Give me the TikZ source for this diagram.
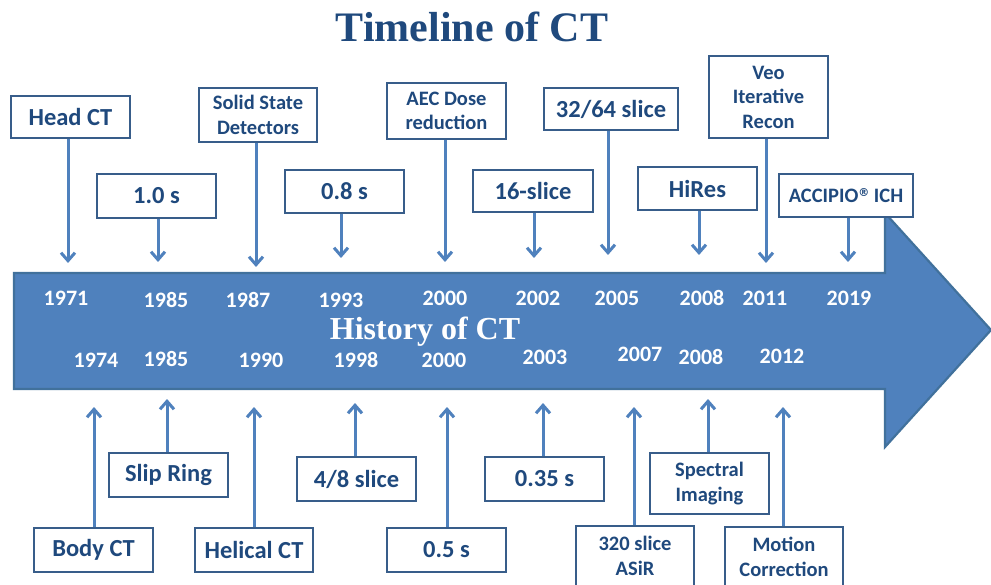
\documentclass[tikz,border=0pt]{standalone}
\usepackage{fontspec}
\setmainfont{Carlito}
\newfontfamily\tnr{Liberation Serif}
\newfontfamily\dejavu{DejaVu Sans}
\usetikzlibrary{arrows.meta}
\definecolor{arrowfill}{HTML}{4F81BD}
\definecolor{arrowedge}{HTML}{41719C}
\definecolor{boxedge}{HTML}{385D8A}
\definecolor{txtc}{HTML}{1F497D}
\definecolor{connc}{HTML}{4F81BD}
\begin{document}
\begin{tikzpicture}[x=1pt,y=-1pt,
  box/.style={draw=boxedge, line width=2.8pt, fill=white, text=txtc, align=center, inner sep=0pt},
  big/.style={box, font=\fontsize{24.5}{27}\selectfont\bfseries},
  small/.style={box, font=\fontsize{20.5}{24.5}\selectfont\bfseries},
  yr/.style={text=white, font=\fontsize{22}{22}\selectfont\bfseries, inner sep=0pt},
  conn/.style={draw=connc, line width=3pt, -{Straight Barb[length=8pt,width=14pt,line width=3pt]}}
]
\clip (0,0) rectangle (991,585);
\fill[white] (0,0) rectangle (991,585);

% title
\node[text=txtc, font=\tnr\fontsize{42}{42}\selectfont\bfseries, inner sep=0pt] (title) at (472,27) {Timeline of CT};

% big arrow
\draw[fill=arrowfill, draw=arrowedge, line width=2.2pt, line join=miter]
  (14,273) -- (885,273) -- (885,213) -- (991,330) -- (885,447) -- (885,389) -- (14,389) -- cycle;
\node[text=white, font=\tnr\fontsize{32}{32}\selectfont\bfseries, inner sep=0pt] (hist) at (425,332) {History of CT};

% years top
\node[yr] (y1) at (66,298) {1971};
\node[yr] (y2) at (166,300) {1985};
\node[yr] (y3) at (248,300) {1987};
\node[yr] (y4) at (341,300) {1993};
\node[yr] (y5) at (445,298) {2000};
\node[yr] (y6) at (538,298) {2002};
\node[yr] (y7) at (617,298) {2005};
\node[yr] (y8) at (702,298) {2008};
\node[yr] (y9) at (765,298) {2011};
\node[yr] (y10) at (849,298) {2019};
% years bottom
\node[yr] (z1) at (96,360) {1974};
\node[yr] (z2) at (166,359) {1985};
\node[yr] (z3) at (261,360) {1990};
\node[yr] (z4) at (356,360) {1998};
\node[yr] (z5) at (444,360) {2000};
\node[yr] (z6) at (545,357) {2003};
\node[yr] (z7) at (640,354) {2007};
\node[yr] (z8) at (701,357) {2008};
\node[yr] (z9) at (782,356) {2012};

% top boxes
\node[big, minimum width=119pt, minimum height=42pt] (headct) at (70.5,117) {Head CT};
\node[big, minimum width=119pt, minimum height=44pt] (one) at (156.5,196) {1.0 s};
\node[small, minimum width=118pt, minimum height=54pt] (solid) at (258,115) {Solid State\\Detectors};
\node[big, minimum width=119pt, minimum height=43pt] (zeroeight) at (344.5,191.5) {0.8 s};
\node[small, minimum width=119pt, minimum height=56pt] (aec) at (446.5,111) {AEC Dose\\reduction};
\node[big, minimum width=120pt, minimum height=42pt] (sixteen) at (533,191) {16-slice};
\node[big, minimum width=134pt, minimum height=42pt] (thirtytwo) at (611,109) {32/64 slice};
\node[big, minimum width=119pt, minimum height=43pt] (hires) at (697.5,188.5) {HiRes};
\node[small, minimum width=119pt, minimum height=82pt] (veo) at (768.5,97) {Veo\\Iterative\\Recon};
\node[small, minimum width=134pt, minimum height=43pt] (accipio) at (846,195.5) {ACCIPIO\raisebox{6pt}{\dejavu\fontsize{11}{11}\selectfont ®} ICH};

% bottom boxes
\node[big, minimum width=119pt, minimum height=44pt] (body) at (93.5,550) {Body CT};
\node[big, minimum width=119pt, minimum height=44pt] (slip) at (168.5,475) {Slip Ring};
\node[big, minimum width=118pt, minimum height=44pt] (helical) at (254,550) {Helical CT};
\node[big, minimum width=119pt, minimum height=44pt] (foureight) at (356.5,479) {4/8 slice};
\node[big, minimum width=119pt, minimum height=44pt] (zerofive) at (446.5,550) {0.5 s};
\node[big, minimum width=119pt, minimum height=44pt] (zerothreefive) at (544.5,479) {0.35 s};
\node[small, minimum width=118pt, minimum height=60pt] (threetwenty) at (635,556) {320 slice\\ASiR};
\node[small, minimum width=119pt, minimum height=61pt] (spectral) at (709.5,483.5) {Spectral\\Imaging};
\node[small, minimum width=118pt, minimum height=60pt] (motion) at (784,557) {Motion\\Correction};

% connector tips
\coordinate (t1) at (68,263);
\coordinate (t2) at (158,262);
\coordinate (t3) at (256,267);
\coordinate (t4) at (341,258);
\coordinate (t5) at (445,262);
\coordinate (t6) at (534,258);
\coordinate (t7) at (608,255);
\coordinate (t8) at (699,255);
\coordinate (t9) at (766,263);
\coordinate (t10) at (848,262);
\coordinate (b1) at (94,407);
\coordinate (b2) at (167,399);
\coordinate (b3) at (254,407);
\coordinate (b4) at (355,403);
\coordinate (b5) at (447,407);
\coordinate (b6) at (543,403);
\coordinate (b7) at (634,407);
\coordinate (b8) at (708,399);
\coordinate (b9) at (783,407);

\draw[conn] (headct.south -| t1) -- (t1);
\draw[conn] (one.south -| t2) -- (t2);
\draw[conn] (solid.south -| t3) -- (t3);
\draw[conn] (zeroeight.south -| t4) -- (t4);
\draw[conn] (aec.south -| t5) -- (t5);
\draw[conn] (sixteen.south -| t6) -- (t6);
\draw[conn] (thirtytwo.south -| t7) -- (t7);
\draw[conn] (hires.south -| t8) -- (t8);
\draw[conn] (veo.south -| t9) -- (t9);
\draw[conn] (accipio.south -| t10) -- (t10);

\draw[conn] (body.north -| b1) -- (b1);
\draw[conn] (slip.north -| b2) -- (b2);
\draw[conn] (helical.north -| b3) -- (b3);
\draw[conn] (foureight.north -| b4) -- (b4);
\draw[conn] (zerofive.north -| b5) -- (b5);
\draw[conn] (zerothreefive.north -| b6) -- (b6);
\draw[conn] (threetwenty.north -| b7) -- (b7);
\draw[conn] (spectral.north -| b8) -- (b8);
\draw[conn] (motion.north -| b9) -- (b9);
\end{tikzpicture}
\end{document}
